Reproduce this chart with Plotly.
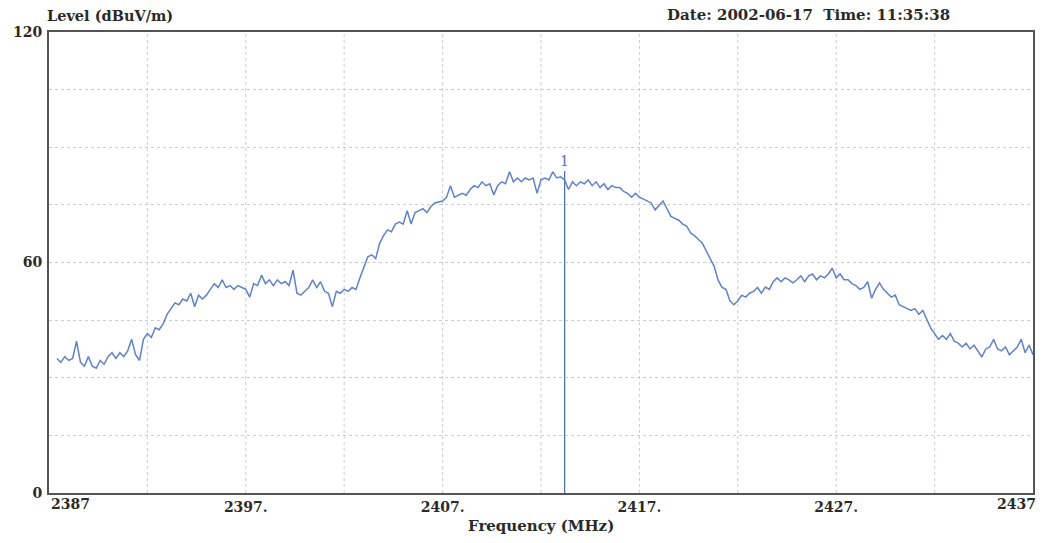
import plotly.graph_objects as go

# ---- data ----
FREQ_START = 2387.4   # MHz, first sample of the sweep
FREQ_STEP = 0.2       # MHz between samples
LEVEL = [  # dBuV/m
    35.0, 34.0, 35.5, 34.5, 35.0,
    39.5, 34.0, 33.0, 35.5, 33.0,
    32.5, 34.5, 33.5, 35.5, 36.5,
    35.0, 36.5, 35.5, 37.0, 40.0,
    36.0, 34.5, 40.0, 41.5, 40.5,
    43.0, 42.5, 44.0, 46.5, 48.0,
    49.5, 49.0, 50.5, 50.0, 52.0,
    48.5, 51.5, 50.5, 51.5, 53.0,
    54.5, 53.5, 55.5, 53.5, 54.0,
    53.0, 54.0, 53.5, 53.0, 51.0,
    54.5, 54.0, 56.7, 54.5, 55.5,
    54.0, 55.5, 54.5, 55.0, 54.0,
    58.0, 52.0, 51.5, 52.5, 53.5,
    55.5, 53.5, 55.0, 52.5, 52.0,
    48.5, 52.5, 52.0, 53.0, 52.5,
    53.5, 53.0, 56.0, 58.5, 61.5,
    62.0, 61.0, 65.0, 67.0, 68.5,
    68.0, 70.0, 70.5, 70.0, 73.5,
    70.0, 73.0, 73.5, 74.0, 73.0,
    74.5, 75.5, 75.8, 76.0, 77.0,
    80.0, 77.0, 77.5, 78.0, 77.5,
    79.0, 80.0, 79.5, 81.0, 80.0,
    80.5, 77.6, 80.0, 81.0, 80.5,
    83.6, 81.0, 82.0, 81.0, 82.0,
    81.5, 82.0, 78.0, 81.5, 82.0,
    81.5, 83.6, 82.0, 82.3, 81.5,
    79.0, 81.0, 80.0, 81.0, 80.5,
    81.5, 80.0, 81.0, 79.5, 80.5,
    79.0, 80.0, 79.5, 79.5, 78.5,
    78.0, 77.0, 78.0, 77.0, 76.5,
    76.0, 75.5, 73.7, 75.0, 76.0,
    74.0, 72.0, 71.5, 71.0, 70.0,
    69.5, 67.7, 67.0, 66.0, 65.0,
    63.0, 61.0, 59.0, 55.4, 53.5,
    53.0, 50.0, 49.0, 50.0, 51.5,
    51.0, 52.0, 52.5, 53.5, 52.0,
    53.6, 53.0, 55.0, 56.0, 55.0,
    56.0, 55.5, 54.7, 55.5, 56.5,
    55.0, 56.5, 57.0, 55.5, 56.5,
    56.0, 57.0, 58.5, 56.0, 57.0,
    55.5, 55.5, 54.5, 54.0, 53.0,
    53.5, 55.0, 50.7, 53.0, 54.7,
    53.0, 52.0, 51.0, 51.5, 49.0,
    48.5, 48.0, 47.5, 48.0, 46.5,
    47.5, 45.0, 43.0, 41.5, 40.0,
    41.0, 40.0, 41.5, 39.5, 39.0,
    38.0, 39.0, 37.5, 38.5, 37.0,
    35.4, 37.5, 38.0, 40.0, 37.5,
    37.0, 38.0, 36.0, 37.0, 38.0,
    40.0, 36.5, 38.5, 36.0,
]
FREQ = [round(FREQ_START + FREQ_STEP * i, 2) for i in range(len(LEVEL))]

MARKER_FREQ = 2413.2
MARKER_LEVEL = 82.3
MARKER_LABEL = "1"

X_RANGE = [2387, 2437]
Y_RANGE = [0, 120]
X_GRID = [2387, 2392, 2397, 2402, 2407, 2412, 2417, 2422, 2427, 2432, 2437]
X_TICKVALS = [2397, 2407, 2417, 2427]
X_TICKTEXT = ["2397.", "2407.", "2417.", "2427."]
Y_TICKVALS = [0, 15, 30, 45, 60, 75, 90, 105, 120]
Y_TICKTEXT = ["0", "", "", "", "60", "", "", "", "120"]

Y_TITLE = "Level (dBuV/m)"
X_TITLE = "Frequency (MHz)"
STAMP = "Date: 2002-06-17  Time: 11:35:38"

SERIF = "DejaVu Serif"
TEXT_COLOR = "#2a2a2a"
TRACE_COLOR = "#5f82c8"
GRID_COLOR = "#cbcbd4"
AXIS_COLOR = "#555555"
TICKFONT = dict(family=SERIF, size=14, weight="bold", color=TEXT_COLOR)

fig = go.Figure()

# marker line
fig.add_trace(go.Scatter(
    x=[MARKER_FREQ, MARKER_FREQ], y=[0, MARKER_LEVEL + 1.5],
    mode="lines", line=dict(color="#4f72b0", width=1.3),
    hoverinfo="skip", showlegend=False))

# spectrum trace
fig.add_trace(go.Scatter(
    x=FREQ, y=LEVEL, mode="lines",
    line=dict(color=TRACE_COLOR, width=1.5),
    showlegend=False))

fig.update_layout(
    width=1054, height=543,
    margin=dict(l=49, r=21, t=32, b=50, autoexpand=False),
    paper_bgcolor="white", plot_bgcolor="white",
    font=dict(family=SERIF, color=TEXT_COLOR, size=13),
    showlegend=False,
)

fig.update_xaxes(
    range=X_RANGE, tickvals=X_TICKVALS, ticktext=X_TICKTEXT,
    showgrid=False, zeroline=False,
    showline=True, linecolor=AXIS_COLOR, linewidth=2, mirror=True,
    ticks="", tickfont=TICKFONT, ticklabelstandoff=0,
)
fig.update_yaxes(
    range=Y_RANGE, tickvals=Y_TICKVALS, ticktext=Y_TICKTEXT,
    showgrid=True, gridcolor=GRID_COLOR, griddash="dot", gridwidth=1,
    zeroline=False,
    showline=True, linecolor=AXIS_COLOR, linewidth=2, mirror=True,
    ticks="", tickfont=TICKFONT, ticklabelstandoff=2,
)

# vertical grid lines every 5 MHz
for gx in X_GRID[1:-1]:
    fig.add_shape(type="line", xref="x", yref="paper", x0=gx, x1=gx, y0=0, y1=1,
                  line=dict(color=GRID_COLOR, width=1, dash="dot"), layer="below")

# end tick labels (left/right aligned)
fig.add_annotation(x=X_RANGE[0], y=0, xref="x", yref="paper", text=str(X_RANGE[0]),
                   showarrow=False, xanchor="left", yanchor="top", yshift=-1,
                   font=TICKFONT)
fig.add_annotation(x=X_RANGE[1], y=0, xref="x", yref="paper", text=str(X_RANGE[1]),
                   showarrow=False, xanchor="right", yanchor="top", yshift=-1, xshift=5,
                   font=TICKFONT)

# axis titles
fig.add_annotation(x=0, y=1, xref="paper", yref="paper", text=Y_TITLE,
                   showarrow=False, xanchor="left", yanchor="bottom", yshift=6, xshift=-4,
                   font=dict(family=SERIF, size=14.5, weight="bold", color=TEXT_COLOR))
fig.add_annotation(x=0.5, y=0, xref="paper", yref="paper", text=X_TITLE,
                   showarrow=False, xanchor="center", yanchor="top", yshift=-22,
                   font=dict(family=SERIF, size=15, weight="bold", color=TEXT_COLOR))
fig.add_annotation(x=0.918, y=1, xref="paper", yref="paper", text=STAMP,
                   showarrow=False, xanchor="right", yanchor="bottom", yshift=6,
                   font=dict(family=SERIF, size=15, weight="bold", color=TEXT_COLOR))

# marker label
fig.add_annotation(x=MARKER_FREQ, y=MARKER_LEVEL + 1.5, xref="x", yref="y", text=MARKER_LABEL,
                   showarrow=False, xanchor="center", yanchor="bottom",
                   font=dict(family=SERIF, size=14, color="#4f72b0"))

# remove the browser's default 8px body margin so the figure fills the window exactly
fig.write_html("out.html", config={"displayModeBar": False},
               post_script="document.body.style.margin='0';")
